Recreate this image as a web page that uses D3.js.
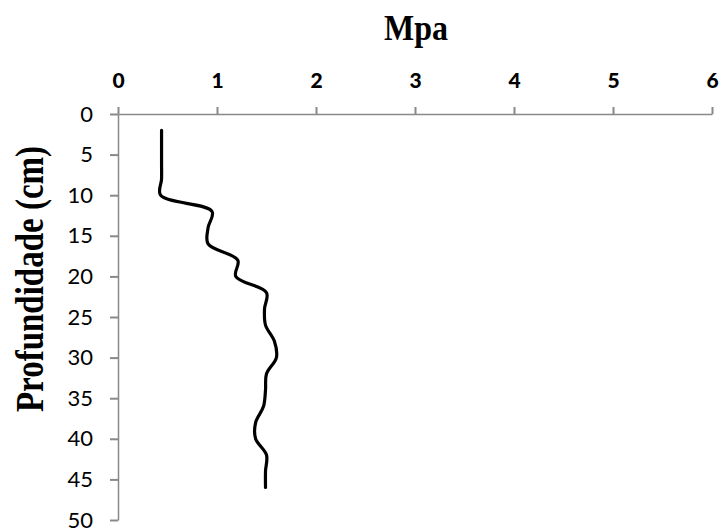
<!DOCTYPE html>
<html>
<head>
<meta charset="utf-8">
<script src="https://cdn.jsdelivr.net/npm/d3@7"></script>
<style>
  body { margin: 0; background: #fff; }
  svg { display: block; }
</style>
</head>
<body>
<svg id="chart" width="719" height="528"></svg>
<script>
// depth (cm) and resistance (Mpa)
let depths = [2, 4, 6, 8, 10, 12, 14, 16, 18, 20, 22, 24, 26, 28, 30, 32, 34, 36, 38, 40, 42, 44, 46]
let mpaValues = [0.44, 0.44, 0.44, 0.44, 0.43, 0.95, 0.91, 0.91, 1.21, 1.19, 1.50, 1.48, 1.49, 1.58, 1.60, 1.50, 1.49, 1.47, 1.39, 1.39, 1.50, 1.49, 1.49]
let xTicks = [0, 1, 2, 3, 4, 5, 6]
let yTicks = [0, 5, 10, 15, 20, 25, 30, 35, 40, 45, 50]

let margin = {top: 114, left: 118}
let plotWidth = 594
let plotHeight = 406
let axisColor = '#898989'

let svg = d3.select('#chart')

let x = d3.scaleLinear().domain([0, 6]).range([margin.left, margin.left + plotWidth])
let y = d3.scaleLinear().domain([0, 50]).range([margin.top, margin.top + plotHeight])

// top axis (Mpa)
let xAxis = svg.append('g')
    .attr('transform', 'translate(0,' + margin.top + ')')
    .call(d3.axisTop(x).tickValues(xTicks).tickFormat(d3.format('d'))
        .tickSize(7).tickPadding(19).tickSizeOuter(0))
xAxis.select('.domain').attr('stroke', axisColor).attr('stroke-width', 1.5)
xAxis.selectAll('.tick line').attr('stroke', axisColor).attr('stroke-width', 2)
xAxis.selectAll('.tick text')
    .attr('fill', '#000')
    .style('font-family', 'Lato')
    .style('font-weight', '900')
    .style('font-size', '21px')

// left axis (depth)
let yAxis = svg.append('g')
    .attr('transform', 'translate(' + margin.left + ',0)')
    .call(d3.axisLeft(y).tickValues(yTicks).tickFormat(d3.format('d'))
        .tickSize(8).tickPadding(17).tickSizeOuter(0))
yAxis.select('.domain').attr('stroke', axisColor).attr('stroke-width', 1.5)
yAxis.selectAll('.tick line').attr('stroke', axisColor).attr('stroke-width', 2)
yAxis.selectAll('.tick text')
    .attr('fill', '#000')
    .style('font-family', 'Lato')
    .style('font-size', '22px')

// the profile line
let points = depths.map((d, i) => ({depth: d, mpa: mpaValues[i]}))
let line = d3.line()
    .x(d => x(d.mpa))
    .y(d => y(d.depth))
    .curve(d3.curveCatmullRom.alpha(0.5))

svg.append('path')
    .datum(points)
    .attr('d', line)
    .attr('fill', 'none')
    .attr('stroke', '#000')
    .attr('stroke-width', 3.2)
    .attr('stroke-linecap', 'round')

// titles
svg.append('text')
    .attr('transform', 'translate(416,40) scale(1,1.1)')
    .attr('text-anchor', 'middle')
    .style('font-family', 'Liberation Serif')
    .style('font-weight', 'bold')
    .style('font-size', '32px')
    .text('Mpa')

svg.append('text')
    .attr('transform', 'translate(43,279) rotate(-90) scale(1,1.2)')
    .attr('text-anchor', 'middle')
    .style('font-family', 'Liberation Serif')
    .style('font-weight', 'bold')
    .style('font-size', '33px')
    .text('Profundidade (cm)')
</script>
</body>
</html>
